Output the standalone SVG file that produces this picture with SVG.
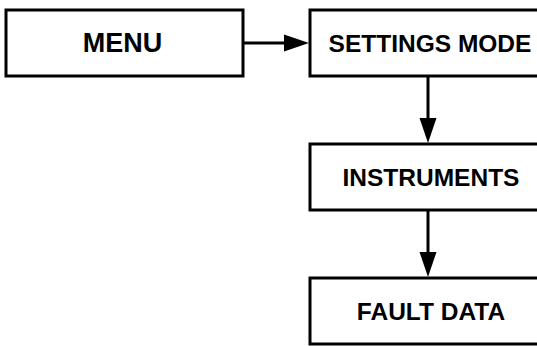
<svg xmlns="http://www.w3.org/2000/svg" width="537" height="346" viewBox="0 0 537 346">
<style>
.box{fill:#fff;stroke:#000;stroke-width:3}
.lbl{font-family:"Liberation Sans",Arial,sans-serif;font-weight:bold;font-size:24.5px;text-anchor:middle;fill:#000}
.big{font-size:27px}
.edge{stroke:#000;stroke-width:3;fill:none}
.head{fill:#000;stroke:none}
</style>
<rect width="537" height="346" fill="#fff"/>
<g id="menu"><rect class="box" x="6" y="10" width="237" height="66"/><text class="lbl big" x="122.5" y="52">MENU</text></g>
<g id="settings"><rect class="box" x="310" y="10" width="237" height="66"/><text class="lbl" x="430" y="52">SETTINGS MODE</text></g>
<g id="instruments"><rect class="box" x="310" y="144" width="237" height="66"/><text class="lbl" x="431" y="186">INSTRUMENTS</text></g>
<g id="fault"><rect class="box" x="310" y="278" width="237" height="66"/><text class="lbl" x="431" y="320">FAULT DATA</text></g>
<g id="connectors">
<line class="edge" x1="243" y1="43" x2="286" y2="43"/>
<polygon class="head" points="284,34.5 309,43 284,51.5"/>
<line class="edge" x1="428" y1="76" x2="428" y2="120"/>
<polygon class="head" points="419.5,118 436.5,118 428,143"/>
<line class="edge" x1="428" y1="210" x2="428" y2="254"/>
<polygon class="head" points="419.5,252 436.5,252 428,277"/>
</g>
</svg>
